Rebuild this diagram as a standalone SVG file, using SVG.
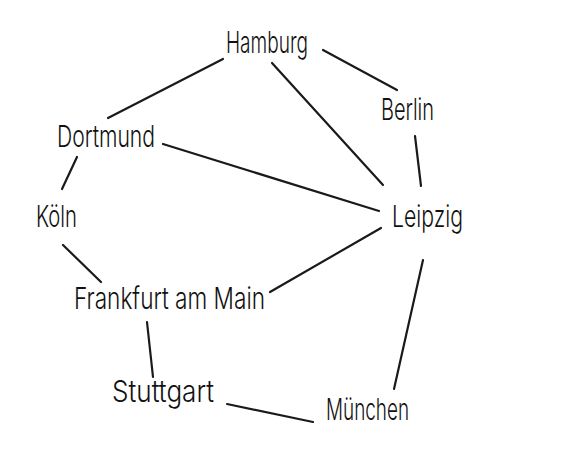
<svg xmlns="http://www.w3.org/2000/svg" width="564" height="463" viewBox="0 0 564 463">
<style>
.lbl{font-family:"Inter","Noto Sans","DejaVu Sans Condensed",sans-serif;font-weight:300;font-size:30px;fill:#111}
.edge{stroke:#1a1a1a;stroke-width:2.2;stroke-linecap:round;fill:none}
</style>
<rect width="564" height="463" fill="#fff"/>
<g id="connectors">
<line class="edge" x1="223" y1="59" x2="108" y2="118"/>
<line class="edge" x1="272" y1="63" x2="383" y2="185"/>
<line class="edge" x1="323" y1="50" x2="397" y2="90"/>
<line class="edge" x1="163" y1="144" x2="379" y2="211"/>
<line class="edge" x1="415" y1="136" x2="421" y2="186"/>
<line class="edge" x1="77" y1="157" x2="62" y2="189"/>
<line class="edge" x1="63" y1="245" x2="101" y2="282"/>
<line class="edge" x1="381" y1="228" x2="270" y2="292"/>
<line class="edge" x1="423" y1="260" x2="394" y2="389"/>
<line class="edge" x1="147" y1="322" x2="153" y2="377"/>
<line class="edge" x1="227" y1="404" x2="313" y2="422"/>
</g>
<g id="hamburg"><text class="lbl" x="226" y="53" textLength="82" lengthAdjust="spacingAndGlyphs">Hamburg</text></g>
<g id="berlin"><text class="lbl" x="381" y="120" textLength="53" lengthAdjust="spacingAndGlyphs">Berlin</text></g>
<g id="dortmund"><text class="lbl" x="57" y="147" textLength="98" lengthAdjust="spacingAndGlyphs">Dortmund</text></g>
<g id="koeln"><text class="lbl" x="36" y="227" textLength="41" lengthAdjust="spacingAndGlyphs">Köln</text></g>
<g id="leipzig"><text class="lbl" x="392" y="227" textLength="71" lengthAdjust="spacingAndGlyphs">Leipzig</text></g>
<g id="frankfurt"><text class="lbl" x="74" y="309" textLength="191" lengthAdjust="spacingAndGlyphs">Frankfurt am Main</text></g>
<g id="stuttgart"><text class="lbl" x="112" y="402" textLength="102" lengthAdjust="spacingAndGlyphs">Stuttgart</text></g>
<g id="muenchen"><text class="lbl" x="326" y="420" textLength="83" lengthAdjust="spacingAndGlyphs">München</text></g>
</svg>
